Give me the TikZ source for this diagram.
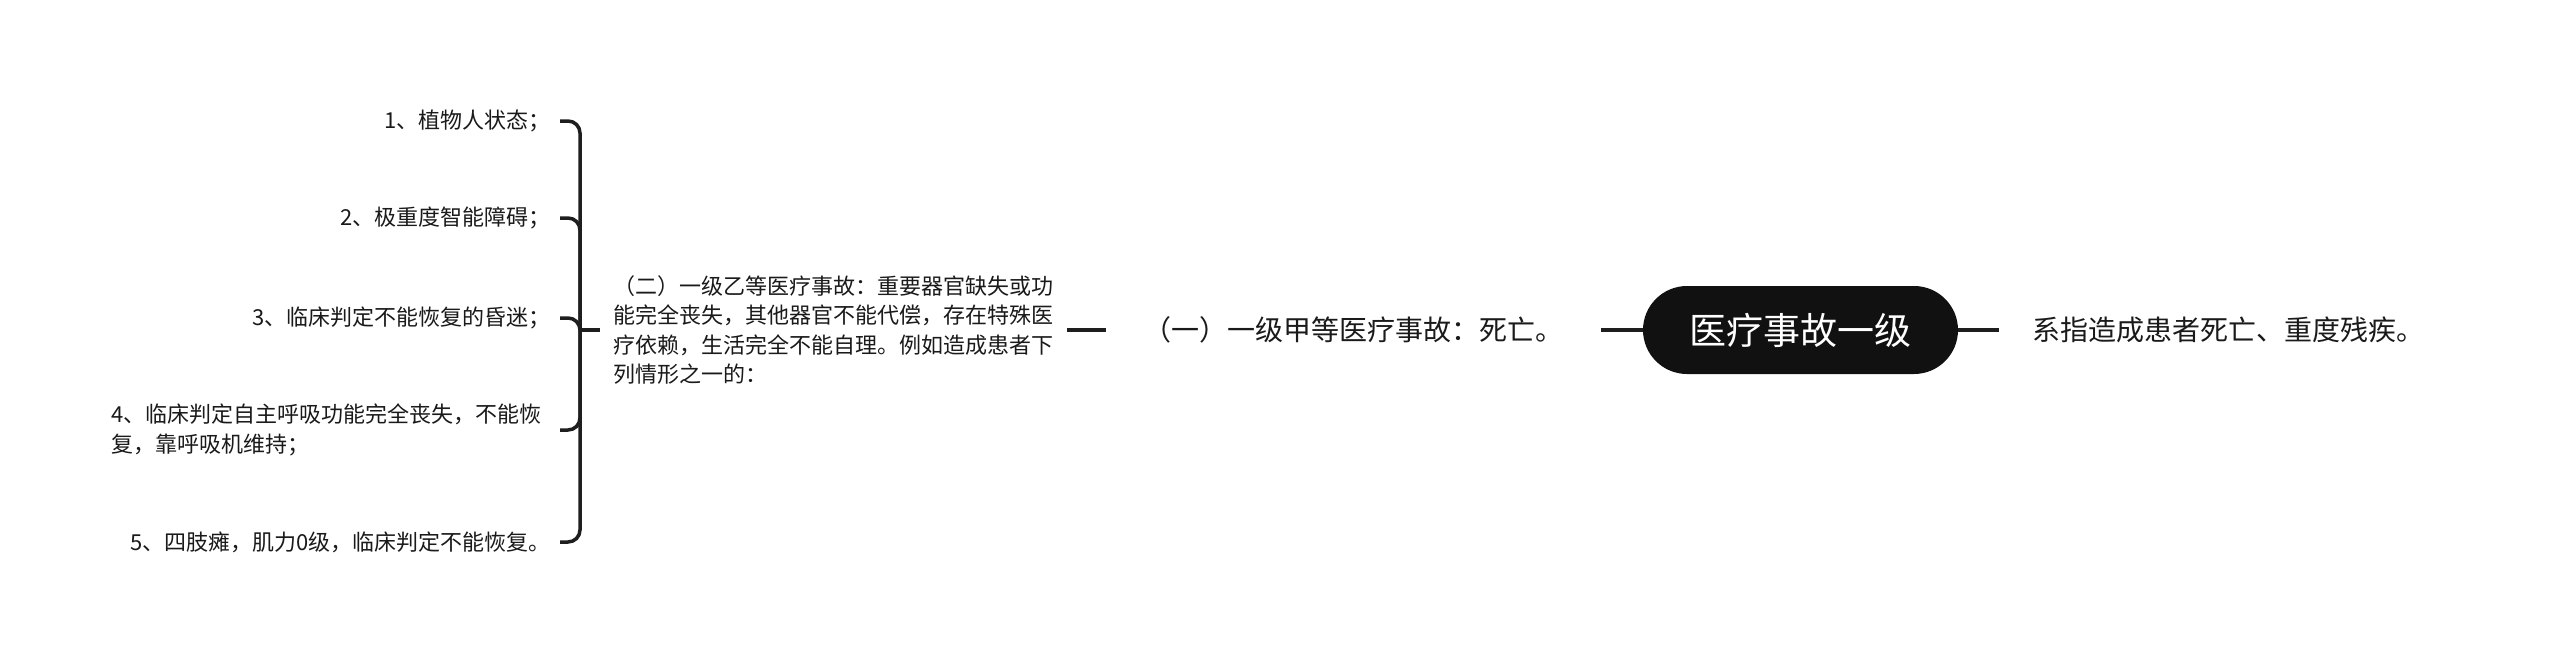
\documentclass[tikz,border=0pt]{standalone}
\usepackage{fontspec}
\setmainfont{Noto Sans CJK SC}
\definecolor{linecol}{HTML}{1E1E1E}
\definecolor{txtcol}{HTML}{1A1A1A}
\definecolor{rootcol}{HTML}{111111}
\begin{document}
\begin{tikzpicture}[x=1pt,y=-1pt]
\tikzset{
  conn/.style={draw=linecol, line width=3.5pt},
  txt/.style={text=txtcol, inner sep=0pt},
  rootbox/.style={fill=rootcol, rounded corners=44pt, minimum width=315pt, minimum height=88pt,
    text=white, inner sep=0pt, font=\fontsize{37}{44}\selectfont},
  lvlone/.style={txt, font=\fontsize{28}{34}\selectfont},
  lvltwo/.style={txt, font=\fontsize{22}{29.5}\selectfont, align=left},
  leaf/.style={txt, font=\fontsize{22}{29.5}\selectfont, align=left, anchor=east}
}
\useasboundingbox[fill=white] (0,0) rectangle (2560,661);

\node[rootbox] (root) at (1800.5,330) {医疗事故一级};
\node[lvlone, minimum width=495pt] (n1) at (1353.5,330) {（一）一级甲等医疗事故：死亡。};
\node[lvlone, anchor=west, inner xsep=33pt] (r) at (1999,330) {系指造成患者死亡、重度残疾。};
\node[lvltwo, anchor=west, minimum width=467pt] (n2) at (600,330)
  {（二）一级乙等医疗事故：重要器官缺失或功\\能完全丧失，其他器官不能代偿，存在特殊医\\疗依赖，生活完全不能自理。例如造成患者下\\列情形之一的：};

\node[leaf] (l1) at (551,121) {1、植物人状态；};
\node[leaf] (l2) at (551,218) {2、极重度智能障碍；};
\node[leaf] (l3) at (551,318) {3、临床判定不能恢复的昏迷；};
\node[leaf] (l4) at (542,430) {4、临床判定自主呼吸功能完全丧失，不能恢\\复，靠呼吸机维持；};
\node[leaf] (l5) at (551,542) {5、四肢瘫，肌力0级，临床判定不能恢复。};

\draw[conn] (root.west) -- (n1.east);
\draw[conn] (root.east) -- (r.west);
\draw[conn] (n1.west) -- (n2.east);
\coordinate (j) at ([xshift=-20pt]n2.west);
\draw[conn] (n2.west) -- (j);
\foreach \k in {l1,l2,l3,l4,l5}
  \draw[conn, rounded corners=12pt] (j) |- ([xshift=-20pt]j |- \k.east);
\end{tikzpicture}
\end{document}
